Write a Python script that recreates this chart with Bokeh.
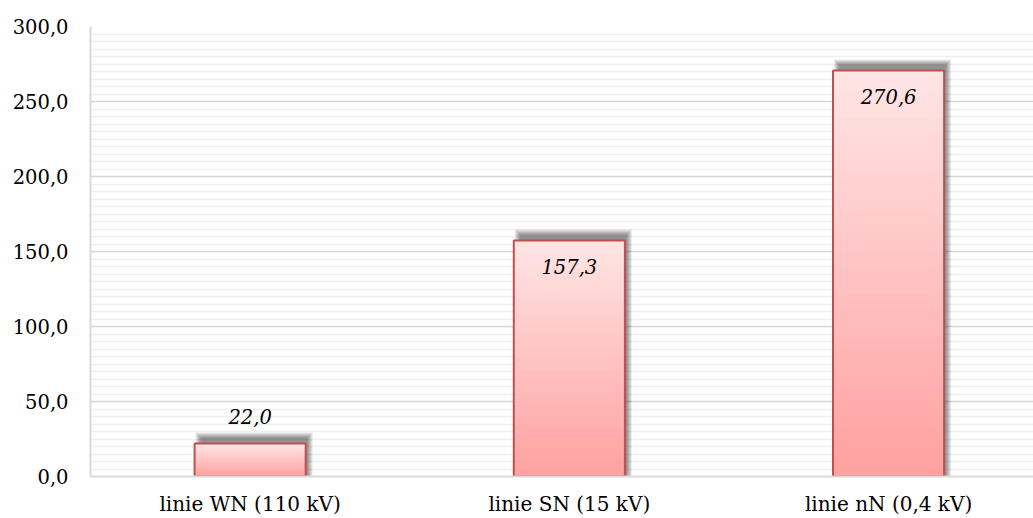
from bokeh.plotting import figure
from bokeh.models import Range1d, FixedTicker, ColumnDataSource
from bokeh.core.properties import value
from bokeh.embed import file_html
from bokeh.resources import INLINE

# ---- data ----
categories = ["linie WN (110 kV)", "linie SN (15 kV)", "linie nN (0,4 kV)"]
values = [22.0, 157.3, 270.6]
value_labels = ["22,0", "157,3", "270,6"]
y_ticks = [0, 50, 100, 150, 200, 250, 300]
y_tick_labels = ["0,0", "50,0", "100,0", "150,0", "200,0", "250,0", "300,0"]

# ---- layout / style ----
W, H = 1033, 518
BL, BR, BT, BB = 90, 0, 26, 42
frame_w = W - BL - BR
frame_h = H - BT - BB
x_end = 2.954
y_end = 300
px_x = x_end / frame_w
px_y = y_end / frame_h
bar_w = 0.348
FONT = "DejaVu Serif"

xs = [i + 0.5 for i in range(len(categories))]

p = figure(width=W, height=H, output_backend="svg", toolbar_location=None,
           x_range=Range1d(0, x_end), y_range=Range1d(0, y_end),
           min_border_left=BL, min_border_right=BR,
           min_border_top=BT, min_border_bottom=BB)
p.outline_line_color = None
p.background_fill_color = "white"
p.border_fill_color = "white"

# grid
minor = [t for t in range(0, 301, 5) if t not in y_ticks]
p.ygrid.ticker = FixedTicker(ticks=y_ticks, minor_ticks=minor)
p.ygrid.grid_line_color = "#d6d6d6"
p.ygrid.grid_line_width = 1.5
p.ygrid.minor_grid_line_color = "#efefef"
p.ygrid.minor_grid_line_width = 1.5
p.xgrid.visible = False

# axes
p.yaxis.ticker = FixedTicker(ticks=y_ticks)
p.yaxis.major_label_overrides = {t: l for t, l in zip(y_ticks, y_tick_labels)}
p.xaxis.ticker = FixedTicker(ticks=xs)
p.xaxis.major_label_overrides = {x: c for x, c in zip(xs, categories)}
for ax in (p.xaxis, p.yaxis):
    ax.axis_line_color = "#d9d9d9"
    ax.axis_line_width = 2
    ax.major_tick_line_color = None
    ax.minor_tick_line_color = None
    ax.major_label_text_font = FONT
    ax.major_label_text_color = "black"
p.xaxis.major_label_text_font_size = "20px"
p.yaxis.major_label_text_font_size = "19.5px"
p.yaxis.major_label_standoff = 16
p.xaxis.major_label_standoff = 9

# shadow (offset up-right, blurred)
sl, sr, st = 6 * px_x, 2 * px_x, 6 * px_y
K = 6
for k in range(K):
    ex, ey = k * px_x, k * px_y
    src = ColumnDataSource(dict(
        left=[x - bar_w / 2 + sl - ex for x in xs],
        right=[x + bar_w / 2 + sr + ex for x in xs],
        bottom=[0 for _ in xs],
        top=[v + st + ey for v in values],
    ))
    p.quad(left="left", right="right", bottom="bottom", top="top", source=src,
           fill_color="black", fill_alpha=0.085, line_color=None)

# gradient fill
N = 60
c0 = (255, 160, 160)
c1 = (255, 229, 229)
for i in range(N):
    t = (i + 0.5) / N
    col = "#%02x%02x%02x" % tuple(int(round(a + (b - a) * t)) for a, b in zip(c0, c1))
    src = ColumnDataSource(dict(
        left=[x - bar_w / 2 for x in xs],
        right=[x + bar_w / 2 for x in xs],
        bottom=[v * i / N for v in values],
        top=values,
    ))
    p.quad(left="left", right="right", bottom="bottom", top="top", source=src,
           fill_color=col, line_color=None)

# border
src_b = ColumnDataSource(dict(
    left=[x - bar_w / 2 for x in xs],
    right=[x + bar_w / 2 for x in xs],
    bottom=[0 for _ in xs],
    top=values,
))
p.quad(left="left", right="right", bottom="bottom", top="top", source=src_b,
       fill_color=None, line_color="#c0504d", line_width=2)

# value labels
inside = [i for i, v in enumerate(values) if v >= 50]
outside = [i for i, v in enumerate(values) if v < 50]
src_in = ColumnDataSource(dict(x=[xs[i] for i in inside], y=[values[i] for i in inside],
                               t=[value_labels[i] for i in inside]))
src_out = ColumnDataSource(dict(x=[xs[i] for i in outside], y=[values[i] for i in outside],
                                t=[value_labels[i] for i in outside]))
p.text(x="x", y="y", text="t", source=src_in, text_align="center", text_baseline="top",
       y_offset=18, text_font=value(FONT), text_font_style="italic",
       text_font_size="19.5px", text_color="black")
p.text(x="x", y="y", text="t", source=src_out, text_align="center", text_baseline="bottom",
       y_offset=-20, text_font=value(FONT), text_font_style="italic",
       text_font_size="19.5px", text_color="black")

open("out.html", "w").write(file_html(p, INLINE))
